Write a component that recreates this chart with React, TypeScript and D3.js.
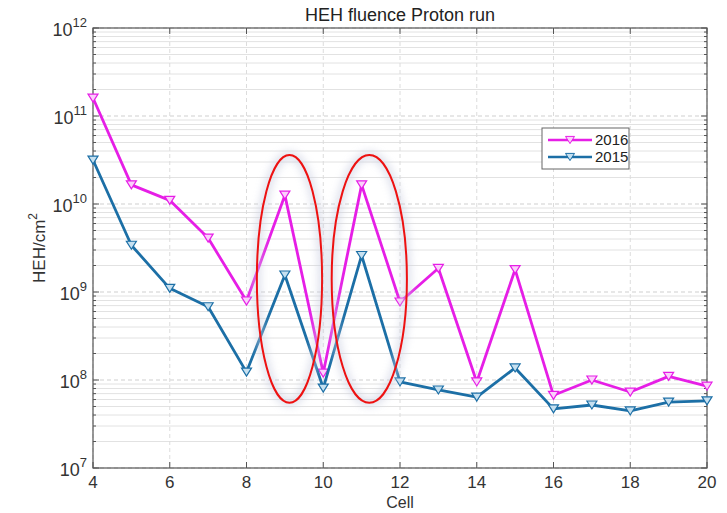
import React from "react";
import * as d3 from "d3";

const cells = [4, 5, 6, 7, 8, 9, 10, 11, 12, 13, 14, 15, 16, 17, 18, 19, 20];
const fluence2016 = [1.6e11, 1.65e10, 1.1e10, 4.1e9, 7.9e8, 1.26e10, 1.2e8, 1.65e10, 7.7e8, 1.86e9, 9.5e7, 1.8e9, 6.7e7, 1.0e8, 7.3e7, 1.1e8, 8.5e7];
const fluence2015 = [3.16e10, 3.4e9, 1.1e9, 6.8e8, 1.23e8, 1.56e9, 8.1e7, 2.6e9, 9.5e7, 7.7e7, 6.4e7, 1.37e8, 4.7e7, 5.2e7, 4.45e7, 5.6e7, 5.8e7];
const xTicks = [4, 6, 8, 10, 12, 14, 16, 18, 20];
const yExponents = [7, 8, 9, 10, 11, 12];
const seriesNames = ["2016", "2015"];
// highlight ellipses: [centerCell, halfWidthCells, topValue, bottomValue]
const highlights = [
  [9.12, 0.85, 3.6e10, 5.5e7],
  [11.2, 0.98, 3.6e10, 5.5e7],
];

const W = 727, H = 513;
const M = { left: 93, right: 20, top: 28, bottom: 45 };

export default function App() {
  const x = d3.scaleLinear().domain([4, 20]).range([M.left, W - M.right]);
  const y = d3.scaleLog().domain([1e7, 1e12]).range([H - M.bottom, M.top]);
  const colors = ["#e61ee6", "#1c6fa6"];
  const markerFill = ["#fbd0fb", "#c6e0f0"];
  const data = [fluence2016, fluence2015];
  const line = d3
    .line<[number, number]>()
    .x((d) => x(d[0]))
    .y((d) => y(d[1]));

  const minor: number[] = [];
  for (let e = 7; e < 12; e++) for (let k = 2; k <= 9; k++) minor.push(k * Math.pow(10, e));

  const tri = (cx: number, cy: number, s = 5) =>
    `M${cx - s},${cy - s * 0.8}L${cx + s},${cy - s * 0.8}L${cx},${cy + s * 0.8}Z`;

  const x0 = M.left, x1 = W - M.right, y0 = M.top, y1 = H - M.bottom;
  const font = "Liberation Sans, Arial, sans-serif";

  return (
    <svg width={W} height={H} style={{ position: "absolute", left: 0, top: 0, background: "#fff" }} fontFamily={font}>
      <defs>
        <filter id="glow" x="-50%" y="-20%" width="200%" height="140%">
          <feGaussianBlur stdDeviation="4" />
        </filter>
      </defs>
      {/* minor grid */}
      {minor.map((v, i) => (
        <line key={"mg" + i} x1={x0} x2={x1} y1={y(v)} y2={y(v)} stroke="#e2e2e2" strokeWidth={1} />
      ))}
      {/* major grid */}
      {yExponents.map((e) => (
        <line key={"Mg" + e} x1={x0} x2={x1} y1={y(Math.pow(10, e))} y2={y(Math.pow(10, e))} stroke="#cfcfcf" strokeDasharray="4,3" />
      ))}
      {xTicks.map((t) => (
        <line key={"xg" + t} x1={x(t)} x2={x(t)} y1={y0} y2={y1} stroke="#dcdcdc" strokeDasharray="4,3" />
      ))}
      {/* axes box */}
      <rect x={x0} y={y0} width={x1 - x0} height={y1 - y0} fill="none" stroke="#555" strokeWidth={1.2} />
      {/* ticks */}
      {xTicks.map((t) => (
        <g key={"xt" + t}>
          <line x1={x(t)} x2={x(t)} y1={y1} y2={y1 - 6} stroke="#555" />
          <line x1={x(t)} x2={x(t)} y1={y0} y2={y0 + 6} stroke="#555" />
          <text x={x(t)} y={y1 + 20} textAnchor="middle" fontSize={17} fill="#333">{t}</text>
        </g>
      ))}
      {minor.map((v, i) => (
        <g key={"mt" + i}>
          <line x1={x0} x2={x0 + 3} y1={y(v)} y2={y(v)} stroke="#555" />
          <line x1={x1} x2={x1 - 3} y1={y(v)} y2={y(v)} stroke="#555" />
        </g>
      ))}
      {yExponents.map((e) => (
        <g key={"yt" + e}>
          <line x1={x0} x2={x0 + 6} y1={y(Math.pow(10, e))} y2={y(Math.pow(10, e))} stroke="#555" />
          <line x1={x1} x2={x1 - 6} y1={y(Math.pow(10, e))} y2={y(Math.pow(10, e))} stroke="#555" />
          <text x={x0 - 6} y={y(Math.pow(10, e)) + 8} textAnchor="end" fontSize={18} fill="#333">
            10<tspan dy={-9} fontSize={13}>{e}</tspan>
          </text>
        </g>
      ))}
      {/* series */}
      {data.map((vals, si) => {
        const pts = cells.map((c, i) => [c, vals[i]] as [number, number]);
        return (
          <g key={"s" + si}>
            <path d={line(pts) || ""} fill="none" stroke={colors[si]} strokeWidth={2.8} strokeLinejoin="round" />
            {pts.map((p, i) => (
              <path key={i} d={tri(x(p[0]), y(p[1]))} fill={markerFill[si]} stroke={colors[si]} strokeWidth={1.2} />
            ))}
          </g>
        );
      })}
      {/* highlight ellipses */}
      {highlights.map((h, i) => {
        const cx = x(h[0]);
        const rx = x(h[0] + h[1]) - cx;
        const yt = y(h[2]), yb = y(h[3]);
        return (
          <g key={"el" + i}>
            <ellipse cx={cx} cy={(yt + yb) / 2} rx={rx} ry={(yb - yt) / 2} fill="none" stroke="#c8cde0" strokeWidth={6} filter="url(#glow)" opacity={0.8} />
            <ellipse cx={cx} cy={(yt + yb) / 2} rx={rx} ry={(yb - yt) / 2} fill="none" stroke="#ee1111" strokeWidth={2} />
          </g>
        );
      })}
      {/* legend */}
      <rect x={542} y={128} width={87} height={41} fill="#fff" stroke="#666" strokeWidth={1} />
      {seriesNames.map((n, i) => {
        const ly = 140 + i * 17;
        return (
          <g key={"lg" + n}>
            <line x1={548} x2={592} y1={ly} y2={ly} stroke={colors[i]} strokeWidth={2.4} />
            <path d={tri(570, ly, 4.5)} fill={markerFill[i]} stroke={colors[i]} strokeWidth={1} />
            <text x={595} y={ly + 5} fontSize={15} fill="#222">{n}</text>
          </g>
        );
      })}
      {/* titles */}
      <text x={(x0 + x1) / 2} y={21} textAnchor="middle" fontSize={18} fill="#222">HEH fluence Proton run</text>
      <text x={(x0 + x1) / 2} y={508} textAnchor="middle" fontSize={16} fill="#333">Cell</text>
      <text transform={`translate(45,${(y0 + y1) / 2}) rotate(-90)`} textAnchor="middle" fontSize={17} fill="#333">
        HEH/cm<tspan dy={-8} fontSize={12}>2</tspan>
      </text>
    </svg>
  );
}
